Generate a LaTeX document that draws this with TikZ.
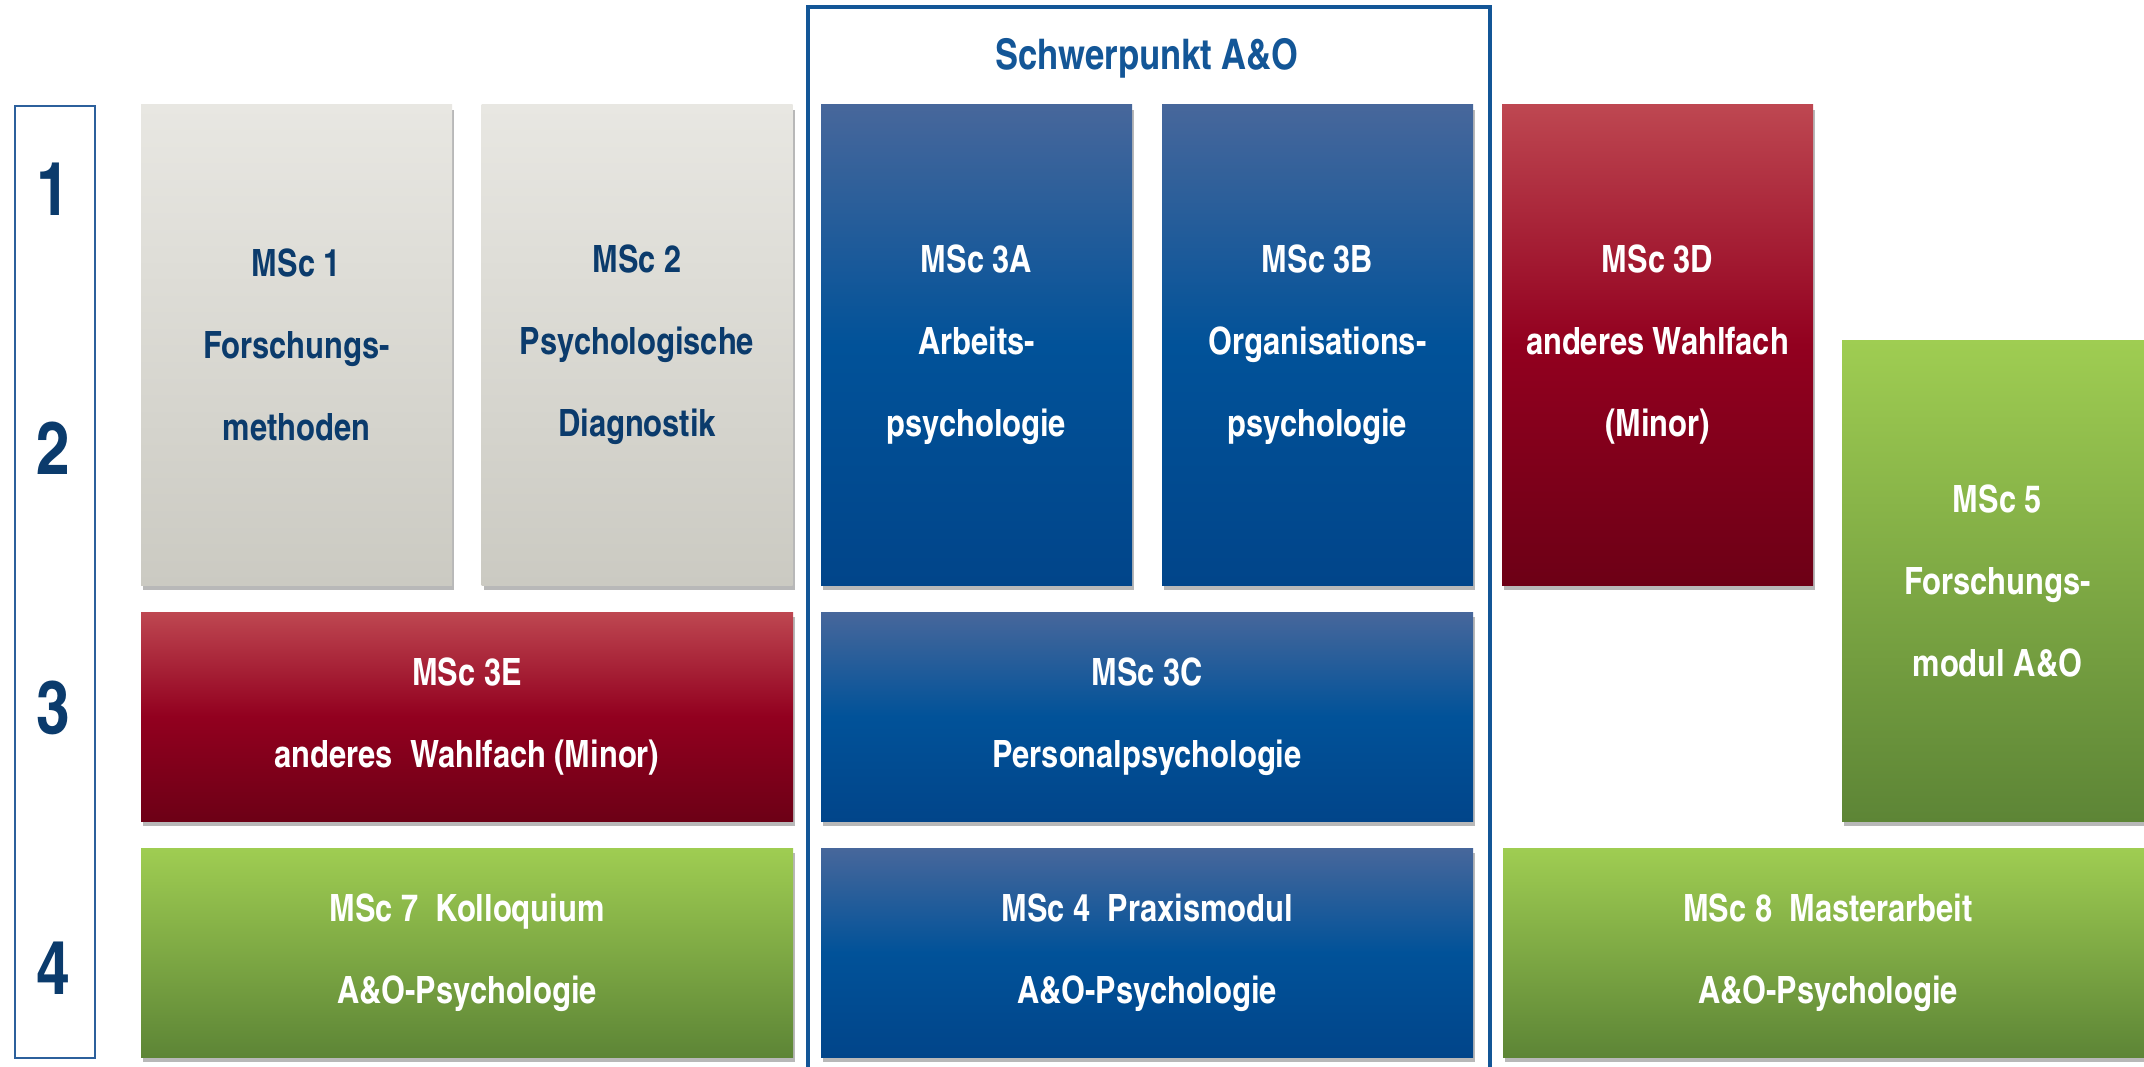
\documentclass[tikz,border=0pt]{standalone}
\usepackage{fontspec}
\newfontfamily\cnfont{texgyreheroscn-bold.otf}
\usetikzlibrary{shadows}
\definecolor{navy}{HTML}{0B3B6C}
\definecolor{framebl}{HTML}{135697}
\definecolor{yearbl}{HTML}{2C609C}
\definecolor{grayT}{HTML}{E8E7E2}
\definecolor{grayB}{HTML}{CBCAC2}
\definecolor{blueT}{HTML}{47679B}
\definecolor{blueM}{HTML}{015299}
\definecolor{blueB}{HTML}{01458A}
\definecolor{redT}{HTML}{BE4751}
\definecolor{redM}{HTML}{92001F}
\definecolor{redB}{HTML}{6D0016}
\definecolor{greenT}{HTML}{9FCD52}
\definecolor{greenB}{HTML}{5D8536}
\begin{document}
\begin{tikzpicture}[x=1pt,y=-1pt,
  mod/.style={inner sep=0pt, align=center, font=\cnfont\fontsize{37.6}{82}\selectfont,
    drop shadow={shadow xshift=2pt, shadow yshift=-5pt, opacity=0.28, fill=black}},
  graybox/.style={mod, top color=grayT, bottom color=grayB, text=navy},
  bluebox/.style={mod, top color=blueT, bottom color=blueB, middle color=blueM, text=white},
  redbox/.style={mod, top color=redT, bottom color=redB, middle color=redM, text=white},
  greenbox/.style={mod, top color=greenT, bottom color=greenB, text=white},
  tall/.style={minimum width=311pt, minimum height=480pt},
  wide/.style={minimum width=652pt, minimum height=209pt},
  yearnum/.style={text=navy, font=\cnfont\fontsize{74}{80}\selectfont, inner sep=0pt}
]
\useasboundingbox (0,0) rectangle (2144,1067);
\fill[white] (0,0) rectangle (2144,1067);
\begin{scope}
\clip (0,0) rectangle (2144,1067);
% frames
\node (frame) [draw=framebl, line width=4pt, anchor=north west, minimum width=682pt, minimum height=1100pt, inner sep=0pt] at (806,5) {};
\node (years) [draw=yearbl, line width=2pt, anchor=north west, minimum width=80pt, minimum height=952pt, inner sep=0pt] at (13.5,105) {};
\node (title) [text=framebl, font=\cnfont\fontsize{42.2}{50}\selectfont, inner sep=0pt] at (1147,58) {Schwerpunkt A\&O};
\node (n1) [yearnum] at (53,189) {1};
\node (n2) [yearnum] at (53,448) {2};
\node (n3) [yearnum] at (53,708) {3};
\node (n4) [yearnum] at (53,968) {4};
% semester 1-2 modules
\node (m1)  [graybox, tall] at (296.5,345) {MSc 1\\Forschungs-\\methoden};
\node (m2)  [graybox, tall] at (637,345) {MSc 2\\Psychologische\\Diagnostik};
\node (m3a) [bluebox, tall] at (976.5,345) {MSc 3A\\Arbeits-\\psychologie};
\node (m3b) [bluebox, tall] at (1317.5,345) {MSc 3B\\Organisations-\\psychologie};
\node (m3d) [redbox, tall] at (1657.5,345) {MSc 3D\\anderes Wahlfach\\(Minor)};
\node (m5)  [greenbox, minimum width=311pt, minimum height=481pt] at (1997.5,580.5) {MSc 5\\Forschungs-\\modul A\&O};
% semester 3
\node (m3e) [redbox, wide] at (467,716.5) {MSc 3E\\anderes\ \ Wahlfach (Minor)};
\node (m3c) [bluebox, wide] at (1147,716.5) {MSc 3C\\Personalpsychologie};
% semester 4
\node (m7) [greenbox, wide] at (467,952.5) {MSc 7\ \ Kolloquium\\A\&O-Psychologie};
\node (m4) [bluebox, wide] at (1147,952.5) {MSc 4\ \ Praxismodul\\A\&O-Psychologie};
\node (m8) [greenbox, minimum width=650pt, minimum height=209pt] at (1828,952.5) {MSc 8\ \ Masterarbeit\\A\&O-Psychologie};
\end{scope}
\end{tikzpicture}
\end{document}
